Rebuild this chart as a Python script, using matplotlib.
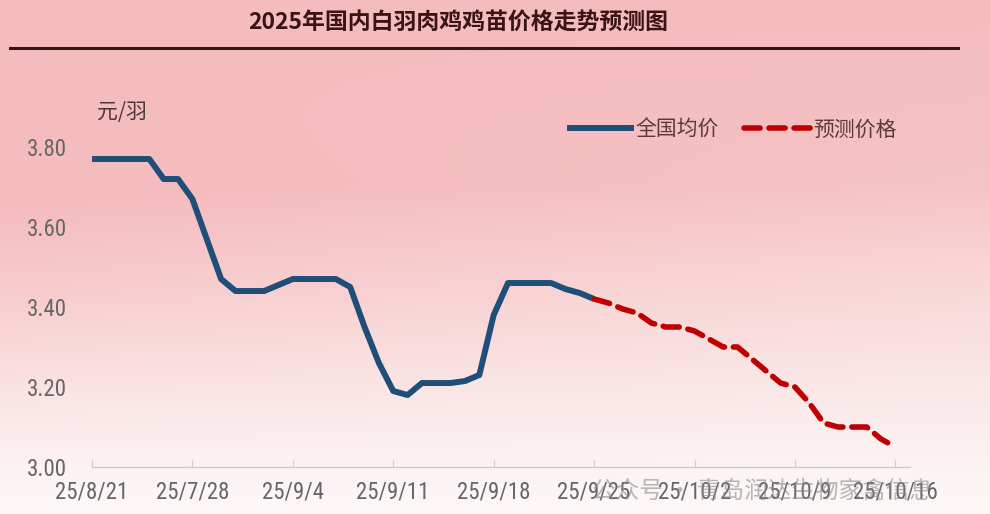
import matplotlib
matplotlib.use('Agg')
import matplotlib.pyplot as plt
import numpy as np
from matplotlib.lines import Line2D
from matplotlib import font_manager

plt.rcParams['font.family'] = ['Noto Sans CJK SC', 'DejaVu Sans']

# ---------------- data ----------------
title = '2025年国内白羽肉鸡鸡苗价格走势预测图'
unit_label = '元/羽'
series_names = ['全国均价', '预测价格']
watermark = '公众号 · 青岛润达生物家禽信息'

tick_days = [0, 7, 14, 21, 28, 35, 42, 49, 56]
tick_labels = ['25/8/21', '25/7/28', '25/9/4', '25/9/11', '25/9/18',
               '25/9/25', '25/10/2', '25/10/9', '25/10/16']

actual_days = list(range(0, 36))
actual_prices = [3.77, 3.77, 3.77, 3.77, 3.77, 3.72, 3.72, 3.67, 3.57, 3.47,
                 3.44, 3.44, 3.44, 3.455, 3.47, 3.47, 3.47, 3.47, 3.45, 3.35,
                 3.26, 3.19, 3.18, 3.21, 3.21, 3.21, 3.215, 3.23, 3.38, 3.46,
                 3.46, 3.46, 3.46, 3.445, 3.435, 3.42]

forecast_days = list(range(35, 57))
forecast_prices = [3.42, 3.41, 3.395, 3.385, 3.36, 3.35, 3.35, 3.34, 3.32, 3.30,
                   3.30, 3.27, 3.24, 3.21, 3.20, 3.16, 3.11, 3.10, 3.10, 3.10,
                   3.07, 3.05]

y_ticks = [3.00, 3.20, 3.40, 3.60, 3.80]


def pick_font(cands):
    for c in cands:
        try:
            font_manager.findfont(font_manager.FontProperties(family=c),
                                  fallback_to_default=False)
            return c
        except Exception:
            continue
    return 'DejaVu Sans'


narrow_name = pick_font(['Liberation Sans Narrow', 'DejaVu Sans Condensed',
                         'Roboto Condensed', 'Open Sans Condensed',
                         'Noto Sans Condensed', 'Liberation Sans'])
narrow_size = 16.5 if narrow_name != 'Liberation Sans' else 14.5
narrow = [narrow_name, 'DejaVu Sans']

# ---------------- figure ----------------
fig = plt.figure(figsize=(9.9, 5.14), dpi=100)

# background gradient
bg = fig.add_axes([0, 0, 1, 1], zorder=0)
h, w = 260, 500
yf, xf = np.mgrid[0:1:h * 1j, 0:1:w * 1j]
base = np.clip((0.98 - yf) / 0.62, 0, 1) ** 1.15
mid = np.exp(-((yf - 0.55) / 0.22) ** 2)
t = base * (1.0 - 0.18 * xf * np.clip(yf / 0.5, 0, 1)) + 0.10 * (1 - xf) * mid
t = np.clip(t, 0, 1)
pink = np.array([245, 188, 190]) / 255.0
white = np.array([253, 247, 247]) / 255.0
img = white[None, None, :] * (1 - t[..., None]) + pink[None, None, :] * t[..., None]
bg.imshow(img, aspect='auto', extent=[0, 1, 0, 1], origin='upper')
bg.set_xlim(0, 1)
bg.set_ylim(0, 1)
bg.axis('off')

# title and rule
fig.text(0.463, 0.955, title, ha='center', va='center', fontsize=16.5,
         fontweight='bold', color='#3a1414')
fig.add_artist(Line2D([0.010, 0.968], [0.907, 0.907], color='#3a1414', lw=2.2,
                      transform=fig.transFigure))

ax = fig.add_axes([0.0929, 0.0914, 0.826, 0.7004], zorder=2)
ax.patch.set_alpha(0)

ax.plot(actual_days, actual_prices, color='#1f4e79', lw=4.3,
        solid_joinstyle='round', solid_capstyle='butt', label=series_names[0], zorder=3)
ax.plot(forecast_days, forecast_prices, color='#c00000', lw=4.0,
        linestyle=(0, (2.9, 1.6)), dash_capstyle='round', dash_joinstyle='round',
        label=series_names[1], zorder=3)

ax.set_xlim(0, 57)
ax.set_ylim(3.0, 3.9)
for s in ['top', 'right', 'left']:
    ax.spines[s].set_visible(False)
ax.spines['bottom'].set_color('#d2caca')
ax.spines['bottom'].set_linewidth(1.0)

ax.set_xticks(tick_days)
ax.set_xticklabels(tick_labels, family=narrow, fontsize=narrow_size, color='#666666')
ax.tick_params(axis='x', direction='in', length=5, color='#d2caca', pad=10)
ax.set_yticks(y_ticks)
ax.set_yticklabels(['%.2f' % v for v in y_ticks], family=narrow, fontsize=narrow_size,
                   color='#666666')
ax.tick_params(axis='y', length=0, pad=18)

fig.text(0.098, 0.782, unit_label, ha='left', va='center', fontsize=15,
         color='#4a3838')

leg = ax.legend(loc='upper left', bbox_to_anchor=(0.558, 1.02), ncol=2,
                frameon=False, fontsize=15, handlelength=3.2, handletextpad=0.1,
                columnspacing=1.2)
for txt in leg.get_texts():
    txt.set_color('#5a3a3a')

# watermark
fig.text(0.598, 0.045, watermark, ha='left', va='center', fontsize=17,
         color='#8a8a8a', alpha=0.6, zorder=5)

fig.savefig('out.png', dpi=100)
